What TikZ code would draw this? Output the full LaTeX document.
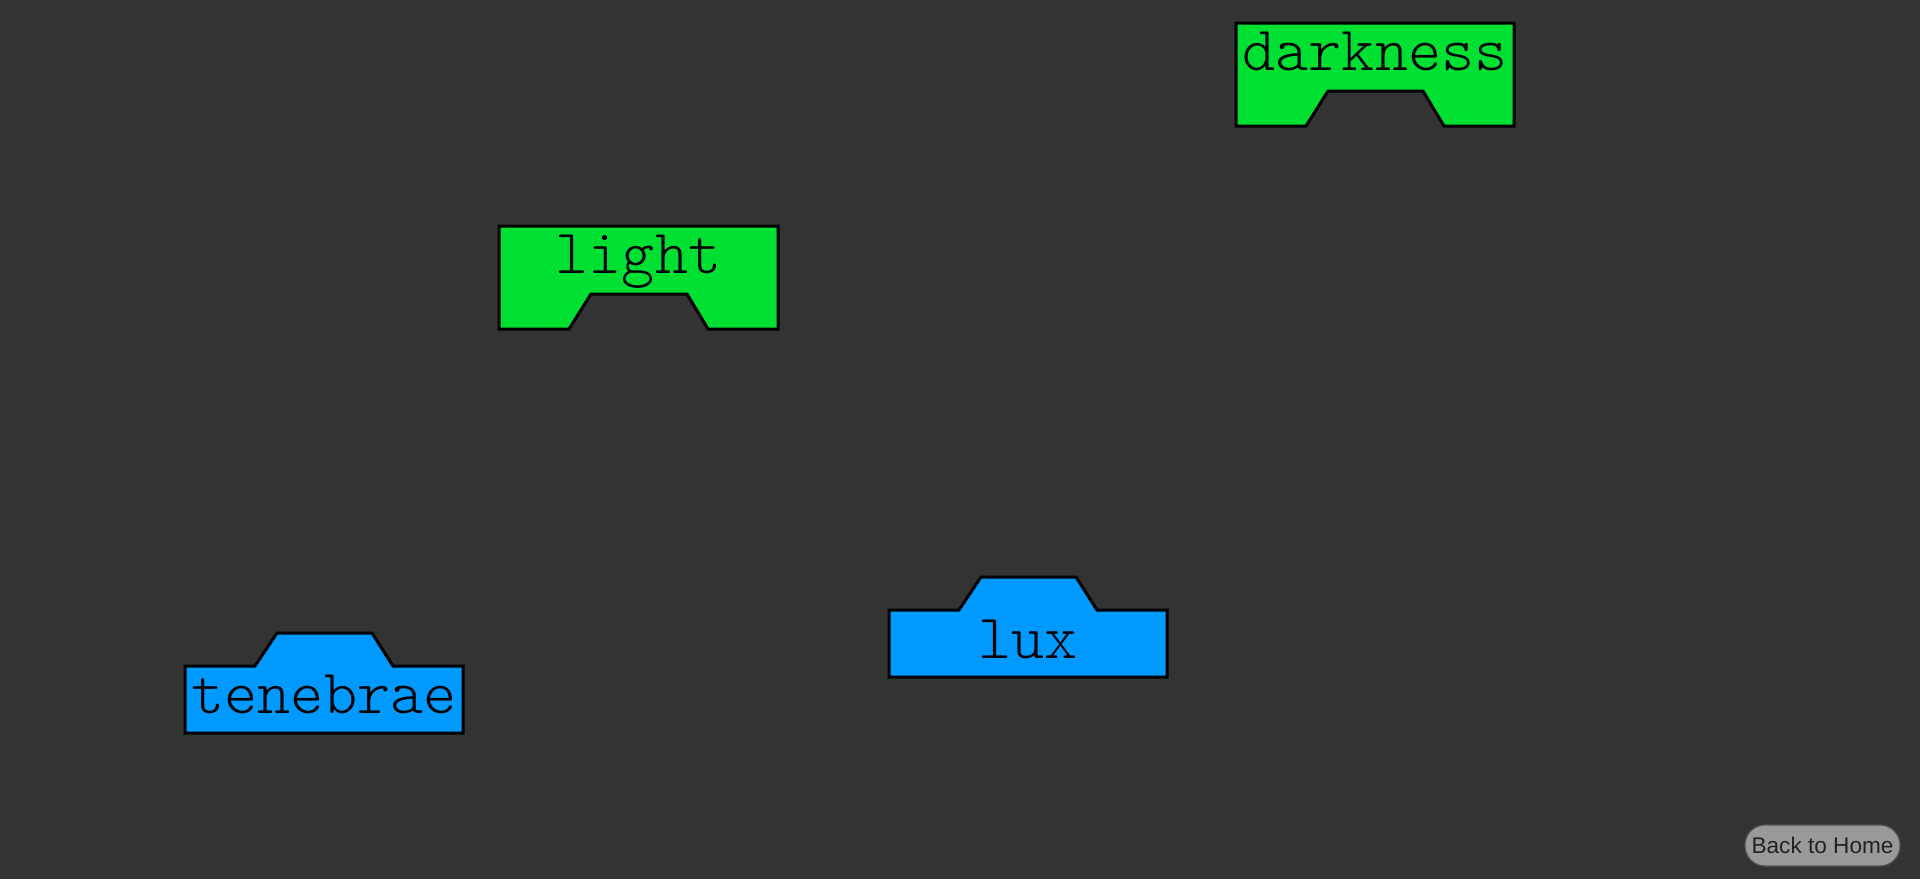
\documentclass[tikz,border=0pt]{standalone}
\usepackage{fontspec}
\usepackage{tikz}
\usetikzlibrary{positioning}
\newfontfamily\wordfont{Latin Modern Mono Light}
\newfontfamily\homefont{Liberation Sans}
\usepackage{xcolor}
\definecolor{stagegray}{RGB}{51, 51, 51}
\definecolor{termgreen}{RGB}{0, 224, 51}
\definecolor{latinblue}{RGB}{0, 153, 255}
\definecolor{buttongray}{RGB}{153, 153, 153}
\definecolor{buttonedge}{RGB}{85, 85, 85}
\definecolor{buttontext}{RGB}{34, 34, 34}

\tikzset{
    slotline/.style={draw=black, line width=1.5pt, line join=miter},
    wordlabel/.style={anchor=base, inner sep=0pt, font=\wordfont\fontsize{31.5pt}{37pt}\selectfont},
    homebutton/.style={draw=buttonedge, fill=buttongray, line width=0.6pt, rounded corners=10pt,
        minimum width=77.5pt, minimum height=20.5pt, inner sep=0pt,
        text=buttontext, font=\homefont\fontsize{11.3pt}{13pt}\selectfont}
}

\begin{document}
\begin{tikzpicture}[x=0.5pt, y=-0.5pt]
    % background, same size as the page
    \fill[stagegray] (0,0) rectangle (1920,879);
    \useasboundingbox (0,0) rectangle (1920,879);

    % English words: notch cut out at the bottom
    \filldraw[termgreen, slotline] (499,226) -- ++(279,0) -- ++(0,103) -- ++(-70,0) -- ++(-21,-35)
        -- ++(-96,0) -- ++(-22,35) -- ++(-70,0) -- cycle;
    \node[wordlabel] (light) at (638.5,273) {light};

    \filldraw[termgreen, slotline] (1236,23) -- ++(278,0) -- ++(0,103) -- ++(-70,0) -- ++(-21,-35)
        -- ++(-95,0) -- ++(-22,35) -- ++(-70,0) -- cycle;
    \node[wordlabel] (darkness) at (1375,70) {darkness};

    % Latin words: tab sticking out on top
    \filldraw[latinblue, slotline] (889,610) -- ++(70,0) -- ++(22,-33) -- ++(95,0) -- ++(21,33)
        -- ++(70,0) -- ++(0,67) -- ++(-278,0) -- cycle;
    \node[wordlabel] (lux) at (1028,658) {lux};

    \filldraw[latinblue, slotline] (185,666) -- ++(70,0) -- ++(22,-33) -- ++(95,0) -- ++(21,33)
        -- ++(70,0) -- ++(0,67) -- ++(-278,0) -- cycle;
    \node[wordlabel] (tenebrae) at (324,713) {tenebrae};

    \node[homebutton] (home) at (1822.5,845.5) {Back to Home};
\end{tikzpicture}
\end{document}
